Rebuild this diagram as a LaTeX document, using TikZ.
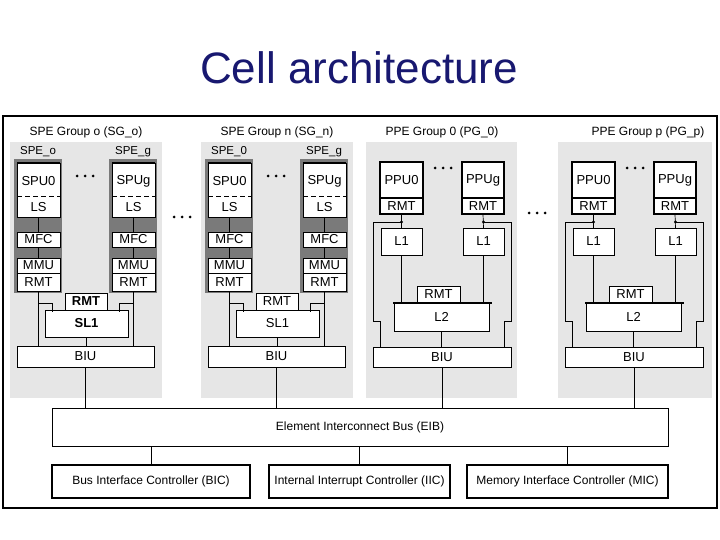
\documentclass[tikz,border=0pt]{standalone}
\usepackage{fontspec}
\setmainfont{Liberation Sans}
\definecolor{titleblue}{RGB}{24,24,112}
\definecolor{panelgray}{RGB}{230,230,230}
\definecolor{darkblk}{RGB}{122,122,122}
\newcommand{\boxfont}{\fontsize{13}{15}\selectfont}
\newcommand{\glabelfont}{\fontsize{12}{14}\selectfont}
\newcommand{\slabelfont}{\fontsize{11.5}{13}\selectfont}
\tikzset{
  bx/.style={draw=black, fill=white, line width=0.7pt, inner sep=0pt, outer sep=0pt, anchor=north west, font=\boxfont},
  thickbx/.style={bx, line width=1.2pt},
  darkbox/.style={fill=darkblk, draw=none, inner sep=0pt, outer sep=0pt, anchor=north west},
  txt/.style={inner sep=0pt, font=\boxfont},
  glabel/.style={inner sep=0pt, font=\glabelfont},
  slabel/.style={inner sep=0pt, font=\slabelfont},
  ln/.style={line width=0.7pt},
  heavyln/.style={line width=1.6pt},
}
% three dots
\newcommand{\threedots}[2]{\foreach \d in {-8,0,8} \fill ({#1+\d},#2) circle (1.5);}
% one SPE unit: #1 prefix, #2 left x of dark block, #3 SPU label
\newcommand{\speunit}[3]{%
  \node[darkbox, minimum width=48pt, minimum height=134pt] (#1blk) at ({#2},159) {};
  \node[bx, minimum width=43pt, minimum height=54pt] (#1spu) at ({#2+3},163) {};
  \draw[heavyln] (#1spu.north west) -- (#1spu.north east);
  \draw[line width=1pt, dash pattern=on 5pt off 3pt] ({#2+3},197) -- ({#2+46},197);
  \node[txt] (#1spul) at ({#2+24.5},181) {#3};
  \node[txt] (#1ls) at ({#2+24.5},207.5) {LS};
  \node[bx, minimum width=43pt, minimum height=15pt] (#1mfc) at ({#2+3},232) {MFC};
  \node[bx, minimum width=43pt, minimum height=15pt] (#1mmu) at ({#2+3},258) {MMU};
  \node[bx, minimum width=43pt, minimum height=18pt] (#1rmt) at ({#2+3},273) {RMT};
  \draw[ln] (#1spu.south) -- (#1mfc.north);
  \draw[ln] (#1mfc.south) -- (#1mmu.north);
}
% SPE group: #1 prefix, #2 x offset, #3 group label, #4 SPE_0 label, #5 RMT/SL1 font
\newcommand{\spegroup}[5]{%
  \fill[panelgray] ({#2+10},142) rectangle ({#2+162},398);
  \node[glabel] (#1lab) at ({#2+86},132) {#3};
  \node[slabel] (#1la) at ({#2+38},152) {#4};
  \node[slabel] (#1lb) at ({#2+133},152) {SPE\_g};
  \speunit{#1a}{#2+14}{SPU0}
  \speunit{#1b}{#2+109}{SPUg}
  \threedots{#2+85}{176}
  \node[bx, minimum width=42pt, minimum height=17pt, font=#5] (#1rmt) at ({#2+65},293) {RMT};
  \node[bx, minimum width=83pt, minimum height=27pt, font=#5] (#1sl) at ({#2+45},310) {SL1};
  \node[bx, minimum width=137pt, minimum height=21pt] (#1biu) at ({#2+17},346) {BIU};
  \draw[ln] (#1armt.south) -- (#1armt.south |- #1biu.north);
  \draw[ln] (#1brmt.south) -- (#1brmt.south |- #1biu.north);
  \draw[ln] ({#2+38.5},303) -| ({#2+52},312);
  \draw[ln] ({#2+133.5},303) -| ({#2+119},312);
  \draw[ln] (#1sl.south) -- (#1sl.south |- #1biu.north);
  \draw[ln] (#1biu.south) -- (#1biu.south |- eib.north);
}
% PPE group: #1 prefix, #2 x offset, #3 label, #4 label x, #5 panel left, #6 panel right
\newcommand{\ppegroup}[6]{%
  \fill[panelgray] (#5,142) rectangle (#6,398);
  \node[glabel] (#1lab) at (#4,132) {#3};
  \node[thickbx, minimum width=43pt, minimum height=36pt] (#1pa) at ({#2+380},162) {PPU0};
  \node[thickbx, minimum width=43pt, minimum height=16pt] (#1ra) at ({#2+380},198) {RMT};
  \node[bx, minimum width=41pt, minimum height=27pt] (#1la) at ({#2+381},228) {L1};
  \node[thickbx, minimum width=42pt, minimum height=36pt] (#1pb) at ({#2+462},162) {PPUg};
  \node[thickbx, minimum width=42pt, minimum height=16pt] (#1rb) at ({#2+462},198) {RMT};
  \node[bx, minimum width=41pt, minimum height=27pt] (#1lb) at ({#2+463},228) {L1};
  \threedots{#2+443}{168}
  \draw[ln] (#1ra.south) -- (#1la.north);
  \draw[ln] (#1rb.south) -- (#1lb.north);
  \coordinate (#1ja) at ({#2+401.5},222);
  \coordinate (#1jb) at ({#2+483.5},222);
  \fill (#1ja) circle (1.6);
  \fill (#1jb) circle (1.6);
  \node[bx, minimum width=43pt, minimum height=17pt] (#1r2) at ({#2+417},286) {RMT};
  \node[bx, minimum width=95pt, minimum height=28pt] (#1l2) at ({#2+394},303) {L2};
  \draw[heavyln] ({#2+393},303) -- ({#2+492},303);
  \node[bx, minimum width=138pt, minimum height=20pt] (#1biu) at ({#2+373},347) {BIU};
  \draw[ln] (#1ja) -- ({#2+373},222) -- ({#2+373},321) -- ({#2+380},321) -- ({#2+380},347);
  \draw[ln] (#1jb) -- ({#2+511},222) -- ({#2+511},321) -- ({#2+504},321) -- ({#2+504},347);
  \draw[ln] (#1la.south) -- (#1la.south |- #1l2.north);
  \draw[ln] (#1lb.south) -- (#1lb.south |- #1l2.north);
  \draw[ln] (#1l2.south) -- (#1l2.south |- #1biu.north);
  \draw[ln] (#1biu.south) -- (#1biu.south |- eib.north);
}
\begin{document}
\begin{tikzpicture}[x=1pt,y=-1pt]
\useasboundingbox (0,0) rectangle (720,540);
\fill[white] (0,0) rectangle (720,540);
% title
\node[inner sep=0pt, text=titleblue, font=\fontsize{44}{50}\selectfont] (title) at (359,68) {Cell architecture};
% outer frame
\draw[line width=1.5pt] (3,116) rectangle (717,508);
% bus and controllers
\node[bx, minimum width=616pt, minimum height=38pt, font=\glabelfont] (eib) at (52,408) {Element Interconnect Bus (EIB)};
\node[thickbx, minimum width=198pt, minimum height=33pt, font=\glabelfont] (bic) at (52,465) {Bus Interface Controller (BIC)};
\node[thickbx, minimum width=181pt, minimum height=33pt, font=\glabelfont] (iic) at (269,465) {Internal Interrupt Controller (IIC)};
\node[thickbx, minimum width=201pt, minimum height=33pt, font=\glabelfont] (mic) at (467,465) {Memory Interface Controller (MIC)};
\draw[ln] (bic.north) -- (bic.north |- eib.south);
\draw[ln] (iic.north) -- (iic.north |- eib.south);
\draw[line width=1.3pt] (mic.north) -- (mic.north |- eib.south);
% groups
\spegroup{sa}{0}{SPE Group o (SG\_o)}{SPE\_o}{\bfseries\boxfont}
\spegroup{sn}{191}{SPE Group n (SG\_n)}{SPE\_0}{\boxfont}
\ppegroup{pa}{0}{PPE Group 0 (PG\_0)}{442}{366}{517}
\ppegroup{pp}{192}{PPE Group p (PG\_p)}{648}{558}{712}
% dots between groups
\threedots{182}{217}
\threedots{537}{213}
\end{tikzpicture}
\end{document}
